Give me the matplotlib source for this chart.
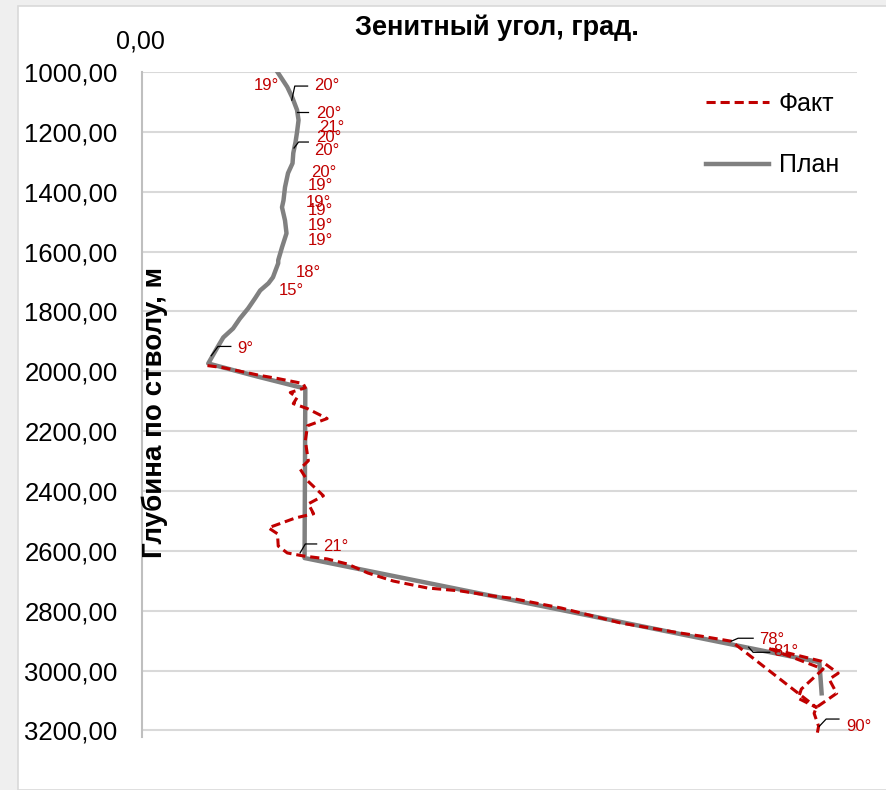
import matplotlib
matplotlib.use("Agg")
import matplotlib.pyplot as plt
from matplotlib.patches import Rectangle

plt.rcParams['font.family'] = ['Liberation Sans', 'DejaVu Sans']

# plan: depth (m) and zenith angle (deg)
plan_depth = [1000, 1050, 1087, 1127, 1161, 1201, 1234, 1271, 1305, 1338, 1385, 1429,
              1452, 1496, 1539, 1586, 1629, 1639, 1686, 1706, 1730, 1757, 1790, 1824,
              1857, 1887, 1921, 1974, 2018, 2058, 2624, 2972, 3076]
plan_angle = [18.0, 19.3, 20.0, 20.6, 20.8, 20.6, 20.4, 20.1, 20.0, 19.4, 19.0, 18.8,
              18.6, 19.0, 19.2, 18.6, 18.1, 18.1, 17.4, 16.8, 15.7, 15.0, 14.1, 13.0,
              12.1, 10.8, 10.0, 8.8, 15.4, 21.7, 21.6, 90.0, 90.3]

# fact
fact_depth = [1981, 1988, 2014, 2024, 2041, 2055, 2071, 2088, 2108, 2125, 2158, 2182,
              2232, 2299, 2326, 2366, 2416, 2443, 2476, 2490, 2523, 2543, 2584, 2607,
              2617, 2627, 2644, 2674, 2701, 2724, 2734, 2751, 2758, 2791, 2841, 2875,
              2885, 2902, 3123, 3093, 3062, 2995, 2925, 2969, 3009, 3029, 3076, 3123,
              3143, 3186, 3226]
fact_angle = [8.7, 10.8, 15.7, 18.0, 21.4, 21.7, 19.7, 20.6, 20.1, 22.0, 24.6, 22.0,
              21.7, 22.1, 21.0, 22.0, 24.1, 22.1, 22.8, 20.4, 16.8, 18.0, 18.1, 19.3,
              21.4, 24.6, 27.3, 30.0, 33.4, 37.9, 42.3, 46.7, 49.0, 55.7, 63.6, 71.6,
              74.3, 78.3, 89.6, 87.2, 87.6, 90.5, 83.2, 90.3, 92.5, 91.3, 92.3, 89.6,
              89.3, 89.9, 89.6]

# data labels: text, label position (angle, depth), leader lines
label_text = ["19°", "20°", "20°", "21°", "20°", "20°", "20°", "19°", "19°", "19°",
              "19°", "19°", "18°", "15°", "9°", "21°", "78°", "81°", "90°"]
label_pos = [(16.5, 1044), (24.5, 1044), (24.8, 1137), (25.2, 1184), (24.8, 1218),
             (24.6, 1261), (24.2, 1335), (23.7, 1378), (23.4, 1435), (23.7, 1462),
             (23.7, 1512), (23.7, 1562), (22.1, 1670), (19.8, 1730), (13.7, 1924),
             (25.8, 2584), (83.6, 2895), (85.6, 2935), (95.3, 3186)]
leaders = {1: [(19.9, 1094), (20.3, 1047), (22.0, 1047)],
           2: [(20.6, 1134), (22.1, 1134)],
           4: [(20.2, 1254), (20.8, 1234), (22.1, 1234)],
           14: [(9.2, 1948), (10.1, 1917), (11.8, 1917)],
           15: [(21.0, 2607), (21.7, 2577), (23.2, 2577)],
           16: [(78.3, 2902), (79.2, 2892), (81.2, 2892)],
           17: [(80.6, 2922), (81.2, 2939), (83.4, 2939)],
           18: [(90.0, 3186), (90.9, 3162), (92.6, 3162)]}

red = '#c00000'
gray = '#808080'

fig = plt.figure(figsize=(8.87, 7.90), dpi=100, facecolor='#efefef')
fig.patches.append(Rectangle((18 / 887, 0), 1, 1 - 6 / 790, transform=fig.transFigure,
                             facecolor='white', edgecolor='#d9d9d9', lw=1.2, zorder=-5))

ax = fig.add_axes([142 / 887, 1 - 737 / 790, 715 / 887, 665 / 790])
ax.set_facecolor('none')

ax.plot(fact_angle, fact_depth, color=red, lw=2.2, ls=(0, (3, 1.6)), label='Факт', zorder=3)
ax.plot(plan_angle, plan_depth, color=gray, lw=3.2, label='План', zorder=2)

for i, (txt, pos) in enumerate(zip(label_text, label_pos)):
    ax.text(pos[0], pos[1], txt, color=red, fontsize=12, ha='center', va='center',
            clip_on=False, zorder=5)
    if i in leaders:
        xs = [p[0] for p in leaders[i]]
        ys = [p[1] for p in leaders[i]]
        ax.plot(xs, ys, color='black', lw=0.9, zorder=4, clip_on=False)

ax.set_xlim(0, 95)
ax.set_ylim(3222, 1000)
ax.set_yticks(range(1000, 3201, 200))
ax.set_yticklabels([f"{v},00" for v in range(1000, 3201, 200)], fontsize=18.5)
ax.tick_params(axis='y', length=0, pad=17.5)
ax.set_xticks([])
ax.grid(axis='y', color='#d9d9d9', lw=1.5)
ax.set_axisbelow(True)
for s in ['top', 'right', 'bottom']:
    ax.spines[s].set_visible(False)
ax.spines['left'].set_color('#bfbfbf')
ax.spines['left'].set_linewidth(1.5)

fig.text(497 / 887, 1 - 28 / 790, 'Зенитный угол, град.', fontsize=19.5, fontweight='bold',
         ha='center', va='center')
fig.text(140 / 887, 1 - 42 / 790, '0,00', fontsize=18, ha='center', va='center')
fig.text(155 / 887, 1 - 412 / 790, 'Глубина по стволу, м', fontsize=20, fontweight='bold',
         rotation=90, ha='center', va='center')

ax.legend(loc='upper left', bbox_to_anchor=(0.789, 0.97), frameon=False, fontsize=18,
          handlelength=2.5, labelspacing=1.5, handletextpad=0.4, borderpad=0,
          borderaxespad=0)

fig.savefig('out.png', dpi=100, facecolor=fig.get_facecolor())
